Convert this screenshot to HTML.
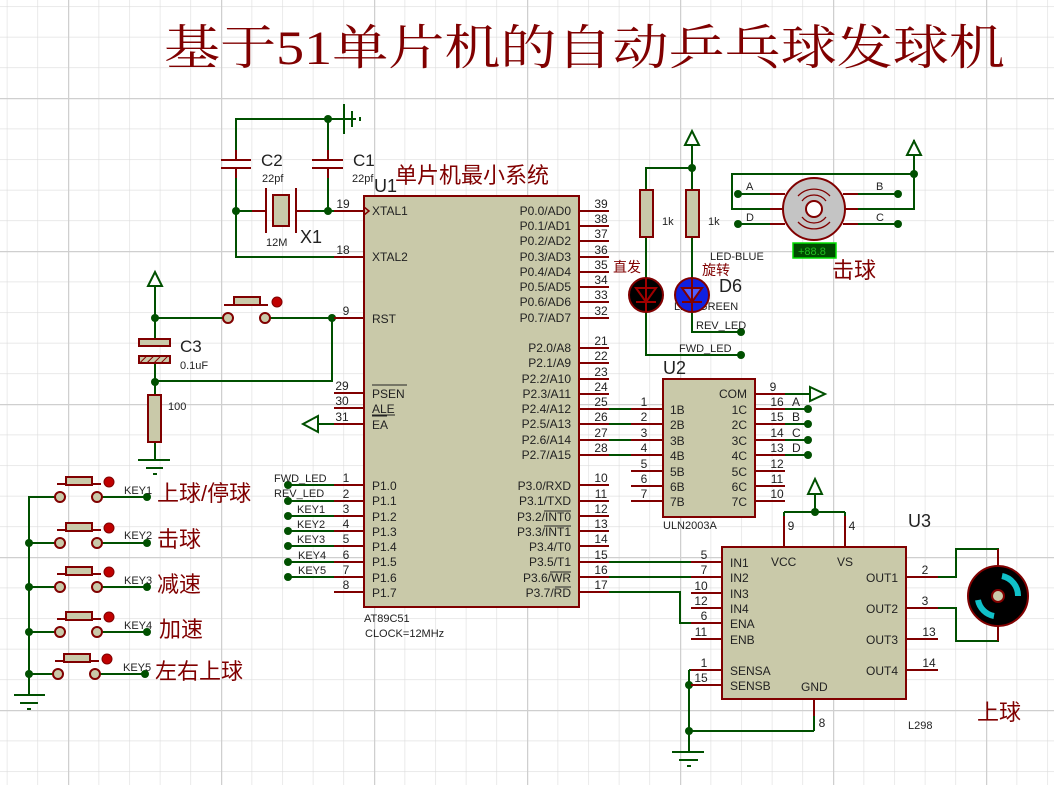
<!DOCTYPE html>
<html><head><meta charset="utf-8"><style>
html,body{margin:0;padding:0;background:#fff}
svg{display:block}
text{font-family:"Liberation Sans","Noto Sans CJK SC",sans-serif;fill:#222}
text.r,.r text{fill:#800000;font-family:"Liberation Sans","Noto Sans CJK SC",sans-serif}
.w{stroke:#005000;stroke-width:2;fill:none}
.p{stroke:#800000;stroke-width:2;fill:none}
.b{fill:#c9c9a9;stroke:#800000;stroke-width:2}
.n{fill:#005000}
.s{font-size:12px}
.m{font-size:11px}
</style></head><body>
<svg width="1054" height="785" viewBox="0 0 1054 785" xmlns="http://www.w3.org/2000/svg">
<defs>
<pattern id="g1" width="30.6" height="30.6" patternUnits="userSpaceOnUse" x="6.8" y="6.2">
<path d="M0 0H30.6M0 0V30.6" stroke="#dcdcdc" stroke-width="1.2" fill="none"/></pattern>
<pattern id="g2" width="153" height="153" patternUnits="userSpaceOnUse" x="68" y="98">
<path d="M0 0H153M0 0V153" stroke="#cfcfcf" stroke-width="2.5" fill="none"/></pattern>
<pattern id="hat" width="5" height="5" patternUnits="userSpaceOnUse" patternTransform="rotate(45)">
<rect width="5" height="5" fill="#c9c9a9"/><path d="M0 0V5" stroke="#800000" stroke-width="2"/></pattern>
</defs>
<rect width="1054" height="785" fill="#fff"/>
<rect width="1054" height="785" fill="url(#g1)"/>
<rect width="1054" height="785" fill="url(#g2)"/>

<!-- Title -->
<text x="164" y="64" textLength="841" lengthAdjust="spacingAndGlyphs" style="font-family:'Liberation Serif','Noto Serif CJK SC',serif;font-size:48px;fill:#800000">基于51单片机的自动乒乓球发球机</text>

<!-- Crystal section -->
<path class="w" d="M236 160V119H356M328 119V160M236 168V257H334M328 168V211M236 211H266M296 211H334"/>
<circle class="n" cx="328" cy="119" r="4"/><circle class="n" cx="236" cy="211" r="4"/><circle class="n" cx="328" cy="211" r="4"/>
<path d="M344 104V134M352 111V127M360 117V121" stroke="#005000" stroke-width="2"/>
<path class="p" d="M221 160H251M221 168H251M312 160H343M312 168H343M236 150V160M236 168V178M328 150V160M328 168V178"/>
<path class="p" d="M266 188V233M296 188V233M252 211H266M296 211H310"/>
<rect class="b" x="273" y="195" width="16" height="31"/>
<text x="261" y="166" style="font-size:17px">C2</text><text x="262" y="182" class="m">22pf</text>
<text x="353" y="166" style="font-size:17px">C1</text><text x="352" y="182" class="m">22pf</text>
<text x="266" y="246" class="m">12M</text><text x="300" y="243" style="font-size:18px">X1</text>

<!-- Reset -->
<path class="w" d="M155 285V339M155 318H228M265 318H364M332 318V381H155"/>
<path d="M148 286L155 272L162 286Z" fill="#fff" stroke="#005000" stroke-width="2"/>
<path class="w" d="M155 363V395M155 442V460"/>
<circle class="n" cx="155" cy="318" r="4"/><circle class="n" cx="332" cy="318" r="4"/><circle class="n" cx="155" cy="382" r="4"/>
<rect class="b" x="139" y="339" width="31" height="7"/>
<rect x="139" y="356" width="31" height="7" fill="url(#hat)" stroke="#800000" stroke-width="2"/>
<rect class="b" x="148" y="395" width="13" height="47"/>
<path d="M138 460H170M146 468H163M153 474H157" stroke="#005000" stroke-width="2"/>
<text x="180" y="352" style="font-size:17px">C3</text><text x="180" y="369" class="m">0.1uF</text>
<text x="168" y="410" class="m">100</text>
<path class="p" d="M224 305H268"/>
<rect class="b" x="234" y="297" width="26" height="8"/>
<circle class="b" cx="228" cy="318" r="5"/><circle class="b" cx="265" cy="318" r="5"/>
<circle cx="277" cy="302" r="5" fill="#c00000" stroke="#800000"/>

<!-- EA arrow -->
<path class="w" d="M318 424H334"/>
<path d="M318 416L303 424L318 432Z" fill="#fff" stroke="#005000" stroke-width="2"/>

<!-- U1 -->
<rect class="b" x="364" y="196" width="215" height="411"/>
<g class="p">
<path d="M334 211H364M334 257H364M334 318H364M334 393H364M334 408H364M334 424H364M334 485H364M334 501H364M334 516H364M334 531H364M334 546H364M334 562H364M334 577H364M334 592H364"/>
<path d="M579 211H609M579 226H609M579 241H609M579 257H609M579 272H609M579 287H609M579 302H609M579 318H609M579 348H609M579 363H609M579 379H609M579 394H609M579 409H609M579 424H609M579 440H609M579 455H609M579 485H609M579 501H609M579 516H609M579 531H609M579 546H609M579 562H609M579 577H609M579 592H609"/>
</g>
<path d="M364 207L369 211L364 215" fill="none" stroke="#800000" stroke-width="1.5"/>
<g class="s" text-anchor="middle">
<text x="343" y="208">19</text><text x="343" y="254">18</text><text x="346" y="315">9</text><text x="342" y="390">29</text><text x="342" y="405">30</text><text x="342" y="421">31</text>
<text x="346" y="482">1</text><text x="346" y="498">2</text><text x="346" y="513">3</text><text x="346" y="528">4</text><text x="346" y="543">5</text><text x="346" y="559">6</text><text x="346" y="574">7</text><text x="346" y="589">8</text>
<text x="601" y="208">39</text><text x="601" y="223">38</text><text x="601" y="238">37</text><text x="601" y="254">36</text><text x="601" y="269">35</text><text x="601" y="284">34</text><text x="601" y="299">33</text><text x="601" y="315">32</text>
<text x="601" y="345">21</text><text x="601" y="360">22</text><text x="601" y="376">23</text><text x="601" y="391">24</text><text x="601" y="406">25</text><text x="601" y="421">26</text><text x="601" y="437">27</text><text x="601" y="452">28</text>
<text x="601" y="482">10</text><text x="601" y="498">11</text><text x="601" y="513">12</text><text x="601" y="528">13</text><text x="601" y="543">14</text><text x="601" y="559">15</text><text x="601" y="574">16</text><text x="601" y="589">17</text>
</g>
<g class="s">
<text x="372" y="215">XTAL1</text><text x="372" y="261">XTAL2</text><text x="372" y="323">RST</text>
<text x="372" y="398">PSEN</text><text x="372" y="413">ALE</text><text x="372" y="429">EA</text>
<text x="372" y="490">P1.0</text><text x="372" y="505">P1.1</text><text x="372" y="521">P1.2</text><text x="372" y="536">P1.3</text><text x="372" y="551">P1.4</text><text x="372" y="566">P1.5</text><text x="372" y="582">P1.6</text><text x="372" y="597">P1.7</text>
</g>
<path d="M372 385H407M372 415H395M372 416H387" stroke="#222" stroke-width="1"/>
<g class="s" text-anchor="end">
<text x="571" y="215">P0.0/AD0</text><text x="571" y="230">P0.1/AD1</text><text x="571" y="245">P0.2/AD2</text><text x="571" y="261">P0.3/AD3</text><text x="571" y="276">P0.4/AD4</text><text x="571" y="291">P0.5/AD5</text><text x="571" y="306">P0.6/AD6</text><text x="571" y="322">P0.7/AD7</text>
<text x="571" y="352">P2.0/A8</text><text x="571" y="367">P2.1/A9</text><text x="571" y="383">P2.2/A10</text><text x="571" y="398">P2.3/A11</text><text x="571" y="413">P2.4/A12</text><text x="571" y="428">P2.5/A13</text><text x="571" y="444">P2.6/A14</text><text x="571" y="459">P2.7/A15</text>
<text x="571" y="490">P3.0/RXD</text><text x="571" y="505">P3.1/TXD</text><text x="571" y="521">P3.2/INT0</text><text x="571" y="536">P3.3/INT1</text><text x="571" y="551">P3.4/T0</text><text x="571" y="566">P3.5/T1</text><text x="571" y="582">P3.6/WR</text><text x="571" y="597">P3.7/RD</text>
</g>
<path d="M544 511H571M544 526H571M550 572H571M555 587H571" stroke="#222" stroke-width="1"/>
<text x="374" y="192" style="font-size:18px">U1</text>
<text x="395" y="183" class="r" style="font-size:22px">单片机最小系统</text>
<text x="364" y="622" class="m">AT89C51</text><text x="365" y="637" class="m">CLOCK=12MHz</text>

<!-- P1 labels -->
<path class="w" d="M288 485H334M288 501H334M288 516H334M288 531H334M288 546H334M288 562H334M288 577H334"/>
<g class="n"><circle cx="288" cy="485" r="4"/><circle cx="288" cy="501" r="4"/><circle cx="288" cy="516" r="4"/><circle cx="288" cy="531" r="4"/><circle cx="288" cy="546" r="4"/><circle cx="288" cy="562" r="4"/><circle cx="288" cy="577" r="4"/></g>
<g class="m"><text x="274" y="482">FWD_LED</text><text x="274" y="497">REV_LED</text><text x="297" y="513">KEY1</text><text x="297" y="528">KEY2</text><text x="297" y="543">KEY3</text><text x="298" y="559">KEY4</text><text x="298" y="574">KEY5</text></g>

<!-- Keys -->
<path class="w" d="M57 497H29V695"/>
<path d="M14 695H45M20 703H38M27 709H31" stroke="#005000" stroke-width="2"/>
<g id="key">
<path class="w" d="M102 497H147M29 497H55"/>
<path class="p" d="M57 484H101"/>
<rect class="b" x="66" y="477" width="26" height="8"/>
<circle class="b" cx="60" cy="497" r="5"/><circle class="b" cx="97" cy="497" r="5"/>
<circle cx="109" cy="482" r="5" fill="#c00000" stroke="#800000"/>
<circle class="n" cx="147" cy="497" r="4"/>
</g>
<use href="#key" y="46"/><use href="#key" y="90"/><use href="#key" y="135"/><use href="#key" x="-2" y="177"/>
<g class="n"><circle cx="29" cy="543" r="4"/><circle cx="29" cy="587" r="4"/><circle cx="29" cy="632" r="4"/><circle cx="29" cy="674" r="4"/></g>
<g class="m"><text x="124" y="494">KEY1</text><text x="124" y="539">KEY2</text><text x="124" y="584">KEY3</text><text x="124" y="629">KEY4</text><text x="123" y="671">KEY5</text></g>
<g class="r" style="font-size:22px"><text x="157" y="501">上球/停球</text><text x="157" y="547">击球</text><text x="157" y="592">减速</text><text x="159" y="637">加速</text><text x="155" y="679">左右上球</text></g>

<!-- LEDs -->
<path class="w" d="M692 145V168H646V190M692 168V190M646 237V280M692 237V280M646 312V355H741M692 312V332H741"/>
<path d="M685 145L692 131L699 145Z" fill="#fff" stroke="#005000" stroke-width="2"/>
<circle class="n" cx="692" cy="168" r="4"/><circle class="n" cx="741" cy="332" r="4"/><circle class="n" cx="741" cy="355" r="4"/>
<rect class="b" x="640" y="190" width="13" height="47"/><rect class="b" x="686" y="190" width="13" height="47"/>
<text x="662" y="225" class="m">1k</text><text x="708" y="225" class="m">1k</text>
<circle cx="646" cy="295" r="17" fill="#000" stroke="#800000" stroke-width="2"/>
<path d="M636 288H656L646 302ZM636 302H656M646 278V312" fill="none" stroke="#a00000" stroke-width="2"/>
<text x="674" y="310" class="m">LED-GREEN</text>
<circle cx="692" cy="295" r="17" fill="#1020e0" stroke="#800000" stroke-width="2"/>
<path d="M682 288H702L692 302Z" fill="#5060ff" stroke="#800000" stroke-width="2"/><path d="M682 302H702M692 278V312" stroke="#800000" stroke-width="2"/>
<text x="710" y="260" class="m">LED-BLUE</text>
<text x="719" y="292" style="font-size:18px">D6</text>
<text x="613" y="272" class="r" style="font-size:14px">直发</text><text x="702" y="275" class="r" style="font-size:14px">旋转</text>
<text x="696" y="329" class="m">REV_LED</text><text x="679" y="352" class="m">FWD_LED</text>

<!-- Stepper -->
<path class="w" d="M914 140V209H845M914 174H732V209H783M738 194H783M845 194H898M738 224H783M845 224H898"/>
<path d="M907 155L914 141L921 155Z" fill="#fff" stroke="#005000" stroke-width="2"/>
<g class="n"><circle cx="914" cy="174" r="4"/><circle cx="738" cy="194" r="4"/><circle cx="898" cy="194" r="4"/><circle cx="738" cy="224" r="4"/><circle cx="898" cy="224" r="4"/></g>
<path class="p" d="M770 194H785M770 209H785M770 224H785M843 194H858M843 209H858M843 224H858"/>
<circle cx="814" cy="209" r="31" fill="#c4c4c4" stroke="#800000" stroke-width="2"/>
<circle cx="814" cy="209" r="8" fill="#fff" stroke="#800000" stroke-width="2"/>
<path d="M798 196A22 22 0 0 1 830 196M802 201A15 15 0 0 1 826 201M798 222A22 22 0 0 0 830 222M802 217A15 15 0 0 0 826 217" fill="none" stroke="#800000" stroke-width="1.3"/>
<g class="m"><text x="746" y="190">A</text><text x="876" y="190">B</text><text x="746" y="221">D</text><text x="876" y="221">C</text></g>
<rect x="793" y="243" width="43" height="15" fill="#004a00" stroke="#00e000" stroke-width="1.5"/>
<text x="798" y="255" style="font-size:11px;fill:#20c020">+88.8</text>
<text x="832" y="278" class="r" style="font-size:22px">击球</text>

<!-- U2 -->
<path class="w" d="M609 409H640M609 424H640M609 440H640M609 455H640M785 394H812M785 409H808M785 424H808M785 440H808M785 455H808"/>
<path d="M810 387L825 394L810 401Z" fill="#fff" stroke="#005000" stroke-width="2"/>
<g class="n"><circle cx="808" cy="409" r="4"/><circle cx="808" cy="424" r="4"/><circle cx="808" cy="440" r="4"/><circle cx="808" cy="455" r="4"/></g>
<path class="p" d="M631 409H663M631 424H663M631 440H663M631 455H663M631 471H663M631 486H663M631 501H663M755 394H785M755 409H785M755 424H785M755 440H785M755 455H785M755 471H785M755 486H785M755 501H785"/>
<rect class="b" x="663" y="379" width="92" height="138"/>
<g class="s" text-anchor="middle"><text x="644" y="406">1</text><text x="644" y="421">2</text><text x="644" y="437">3</text><text x="644" y="452">4</text><text x="644" y="468">5</text><text x="644" y="483">6</text><text x="644" y="498">7</text>
<text x="773" y="391">9</text><text x="777" y="406">16</text><text x="777" y="421">15</text><text x="777" y="437">14</text><text x="777" y="452">13</text><text x="777" y="468">12</text><text x="777" y="483">11</text><text x="777" y="498">10</text></g>
<g class="s"><text x="792" y="406">A</text><text x="792" y="421">B</text><text x="792" y="437">C</text><text x="792" y="452">D</text></g>
<g class="s"><text x="670" y="414">1B</text><text x="670" y="429">2B</text><text x="670" y="445">3B</text><text x="670" y="460">4B</text><text x="670" y="476">5B</text><text x="670" y="491">6B</text><text x="670" y="506">7B</text></g>
<g class="s" text-anchor="end"><text x="747" y="398">COM</text><text x="747" y="414">1C</text><text x="747" y="429">2C</text><text x="747" y="445">3C</text><text x="747" y="460">4C</text><text x="747" y="476">5C</text><text x="747" y="491">6C</text><text x="747" y="506">7C</text></g>
<text x="663" y="374" style="font-size:18px">U2</text>
<text x="663" y="529" class="m">ULN2003A</text>

<!-- U3 L298 -->
<path class="w" d="M609 562H691M609 577H691M609 592H680V623H691M784 512V531M845 512V531M784 512H845M815 512V480M938 577H956V549H998V566M938 608H956V641H998V626M689 670V752M689 685H691M689 670H700M814 731H689"/>
<path d="M808 494L815 479L822 494Z" fill="#fff" stroke="#005000" stroke-width="2"/>
<circle class="n" cx="815" cy="512" r="4"/><circle class="n" cx="689" cy="685" r="4"/><circle class="n" cx="689" cy="731" r="4"/>
<path d="M672 752H704M679 760H698M687 766H691" stroke="#005000" stroke-width="2"/>
<path class="p" d="M691 562H722M691 577H722M691 593H722M691 608H722M691 623H722M691 639H722M691 670H722M691 685H722M906 577H938M906 608H938M906 639H938M906 670H938M784 516V547M845 516V547M814 699V716"/>
<path class="w" d="M814 716V731"/>
<rect class="b" x="722" y="547" width="184" height="152"/>
<g class="s" text-anchor="middle"><text x="704" y="559">5</text><text x="704" y="574">7</text><text x="701" y="590">10</text><text x="701" y="605">12</text><text x="704" y="620">6</text><text x="701" y="636">11</text><text x="704" y="667">1</text><text x="701" y="682">15</text>
<text x="791" y="530">9</text><text x="852" y="530">4</text><text x="822" y="727">8</text>
<text x="925" y="574">2</text><text x="925" y="605">3</text><text x="929" y="636">13</text><text x="929" y="667">14</text></g>
<g class="s"><text x="730" y="567">IN1</text><text x="730" y="582">IN2</text><text x="730" y="598">IN3</text><text x="730" y="613">IN4</text><text x="730" y="628">ENA</text><text x="730" y="644">ENB</text><text x="730" y="675">SENSA</text><text x="730" y="690">SENSB</text>
<text x="771" y="566">VCC</text><text x="837" y="566">VS</text><text x="801" y="691">GND</text></g>
<g class="s" text-anchor="end"><text x="898" y="582">OUT1</text><text x="898" y="613">OUT2</text><text x="898" y="644">OUT3</text><text x="898" y="675">OUT4</text></g>
<text x="908" y="527" style="font-size:18px">U3</text>
<text x="908" y="729" class="m">L298</text>
<text x="977" y="720" class="r" style="font-size:22px">上球</text>
<path class="p" d="M998 549V566M998 626V641"/>
<circle cx="998" cy="596" r="30" fill="#000" stroke="#800000" stroke-width="2"/>
<path d="M1002 576A20 20 0 0 1 1018 596" fill="none" stroke="#10c0c8" stroke-width="6"/>
<path d="M994 616A20 20 0 0 1 978 600" fill="none" stroke="#10c0c8" stroke-width="6"/>
<circle cx="998" cy="596" r="6" fill="#c9c9a9" stroke="#800000" stroke-width="2"/>
</svg>
</body></html>
